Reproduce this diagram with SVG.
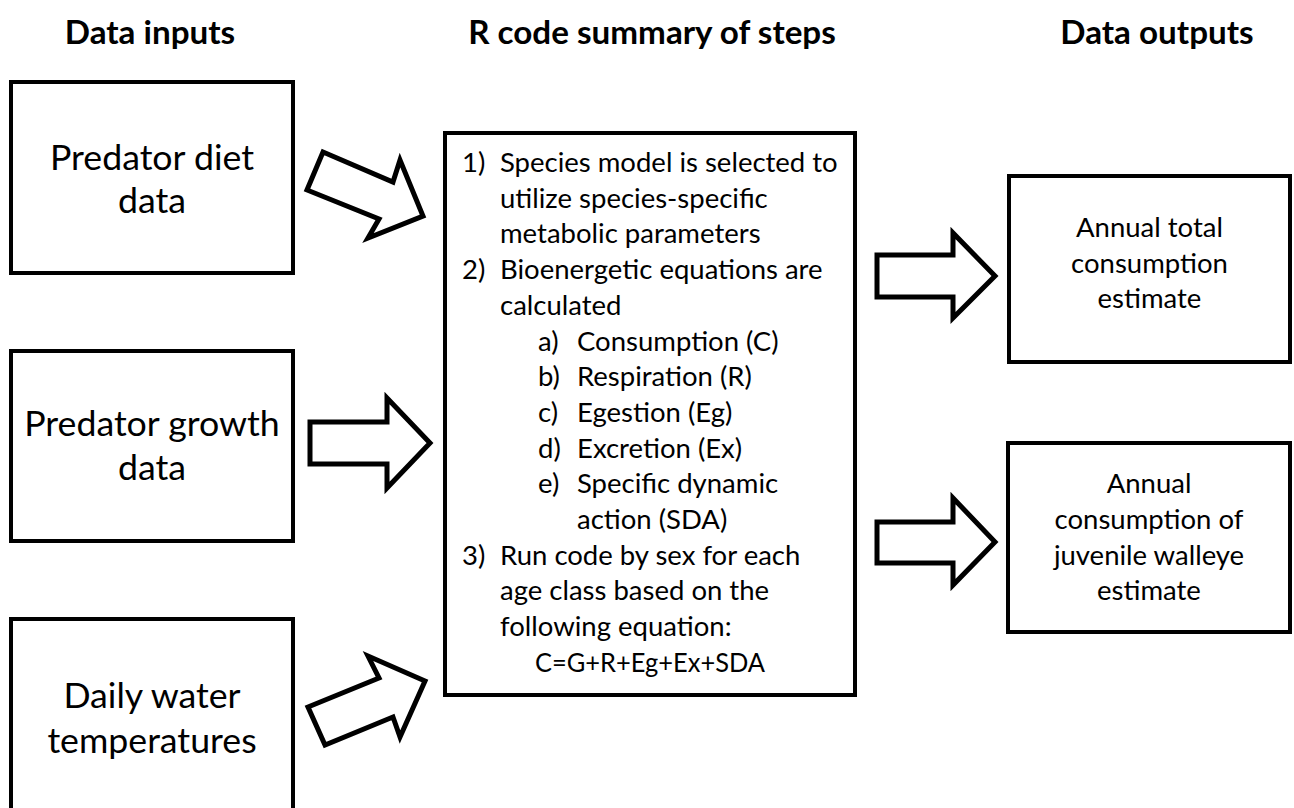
<svg xmlns="http://www.w3.org/2000/svg" width="1294" height="808" viewBox="0 0 1294 808">
<style>
.box{fill:#fff;stroke:#000;stroke-width:4}
.arr{fill:#fff;stroke:#000;stroke-width:5;stroke-linejoin:miter}
text{font-family:Lato,"Noto Sans",sans-serif;fill:#000}
.title{font-size:33.2px;font-weight:bold;text-anchor:middle}
.big{font-size:35.7px;text-anchor:middle}
.mid{font-size:27.5px}
.c{text-anchor:middle}
</style>
<rect width="1294" height="808" fill="#fff"/>
<g id="titles">
<text class="title" x="150" y="44">Data inputs</text>
<text class="title" x="652" y="44">R code summary of steps</text>
<text class="title" x="1157" y="44">Data outputs</text>
</g>
<g id="diet">
<rect class="box" x="11" y="82" width="282" height="191"/>
<text class="big" x="152" y="170">Predator diet</text>
<text class="big" x="152" y="213">data</text>
</g>
<g id="growth">
<rect class="box" x="11" y="351" width="282" height="190"/>
<text class="big" x="152" y="436">Predator growth</text>
<text class="big" x="152" y="480">data</text>
</g>
<g id="temp">
<rect class="box" x="11" y="619" width="282" height="210"/>
<text class="big" x="152" y="708">Daily water</text>
<text class="big" x="152" y="753">temperatures</text>
</g>
<g id="steps">
<rect class="box" x="445" y="133" width="410" height="562"/>
<g class="mid">
<text x="462" y="172">1)</text><text x="500" y="172">Species model is selected to</text>
<text x="500" y="207.7">utilize species-specific</text>
<text x="500" y="243.4">metabolic parameters</text>
<text x="462" y="279">2)</text><text x="500" y="279">Bioenergetic equations are</text>
<text x="500" y="314.8">calculated</text>
<text x="538" y="350.5">a)</text><text x="577" y="350.5">Consumption (C)</text>
<text x="538" y="386.2">b)</text><text x="577" y="386.2">Respiration (R)</text>
<text x="538" y="422">c)</text><text x="577" y="422">Egestion (Eg)</text>
<text x="538" y="457.6">d)</text><text x="577" y="457.6">Excretion (Ex)</text>
<text x="538" y="493.3">e)</text><text x="577" y="493.3">Specific dynamic</text>
<text x="577" y="529">action (SDA)</text>
<text x="462" y="564.7">3)</text><text x="500" y="564.7">Run code by sex for each</text>
<text x="500" y="600.4">age class based on the</text>
<text x="500" y="636.1">following equation:</text>
<text x="535" y="672" textLength="230" lengthAdjust="spacingAndGlyphs">C=G+R+Eg+Ex+SDA</text>
</g>
</g>
<g id="total">
<rect class="box" x="1009" y="176" width="281" height="186"/>
<g class="mid c">
<text x="1149.5" y="237">Annual total</text>
<text x="1149.5" y="273">consumption</text>
<text x="1149.5" y="308">estimate</text>
</g>
</g>
<g id="juvenile">
<rect class="box" x="1008" y="443" width="282" height="189"/>
<g class="mid c">
<text x="1149" y="493">Annual</text>
<text x="1149" y="529">consumption of</text>
<text x="1149" y="565">juvenile walleye</text>
<text x="1149" y="600">estimate</text>
</g>
</g>
<g id="connectors">
<polygon class="arr" points="323,152 393,182 400,160 423,216 368,238 379,219 307,190"/>
<polygon class="arr" points="310,422 387,422 387,398 430,443 387,488 387,464 310,464"/>
<polygon class="arr" points="308,707 379,678 368,656 425,681 400,737 393,717 325,745"/>
<polygon class="arr" points="877,255 953,255 953,233 995,276 953,318 953,297 877,297"/>
<polygon class="arr" points="877,522 953,522 953,498 995,542 953,585 953,563 877,563"/>
</g>
</svg>
